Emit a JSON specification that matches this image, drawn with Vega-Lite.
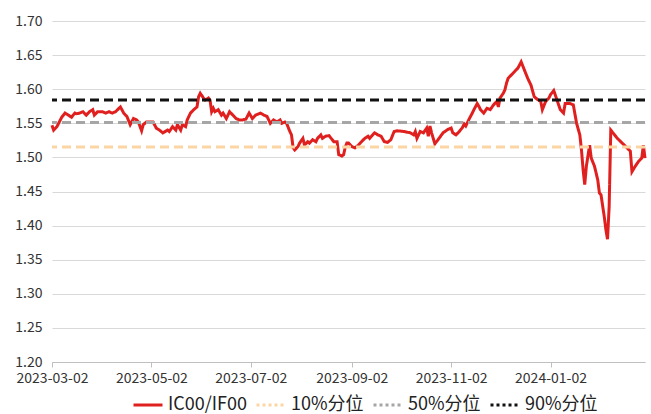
{
  "$schema": "https://vega.github.io/schema/vega-lite/v6.json",
  "width": 593,
  "height": 341,
  "autosize": {"type": "none"},
  "padding": {"left": 52, "top": 21, "right": 6, "bottom": 52},
  "config": {"view": {"stroke": null}, "font": "Noto Sans CJK SC"},
  "datasets": {
    "main": [
      {"date":"2023-03-02","v":1.547},{"date":"2023-03-03","v":1.540},{"date":"2023-03-05","v":1.545},{"date":"2023-03-08","v":1.559},
      {"date":"2023-03-10","v":1.565},{"date":"2023-03-12","v":1.562},{"date":"2023-03-14","v":1.559},{"date":"2023-03-16","v":1.565},
      {"date":"2023-03-17","v":1.564},{"date":"2023-03-19","v":1.565},{"date":"2023-03-21","v":1.567},{"date":"2023-03-23","v":1.562},
      {"date":"2023-03-25","v":1.567},{"date":"2023-03-27","v":1.570},{"date":"2023-03-28","v":1.562},{"date":"2023-03-30","v":1.567},
      {"date":"2023-04-02","v":1.567},{"date":"2023-04-04","v":1.565},{"date":"2023-04-06","v":1.567},{"date":"2023-04-08","v":1.565},
      {"date":"2023-04-10","v":1.567},{"date":"2023-04-13","v":1.574},{"date":"2023-04-15","v":1.565},{"date":"2023-04-17","v":1.560},
      {"date":"2023-04-19","v":1.548},{"date":"2023-04-21","v":1.557},{"date":"2023-04-23","v":1.555},{"date":"2023-04-24","v":1.552},
      {"date":"2023-04-26","v":1.539},{"date":"2023-04-27","v":1.548},{"date":"2023-04-29","v":1.552},{"date":"2023-05-01","v":1.552},
      {"date":"2023-05-03","v":1.552},{"date":"2023-05-05","v":1.543},{"date":"2023-05-07","v":1.540},{"date":"2023-05-09","v":1.536},
      {"date":"2023-05-12","v":1.540},{"date":"2023-05-13","v":1.538},{"date":"2023-05-15","v":1.545},{"date":"2023-05-17","v":1.540},
      {"date":"2023-05-18","v":1.548},{"date":"2023-05-20","v":1.540},{"date":"2023-05-21","v":1.548},{"date":"2023-05-23","v":1.545},
      {"date":"2023-05-24","v":1.555},{"date":"2023-05-26","v":1.565},{"date":"2023-05-28","v":1.570},{"date":"2023-05-30","v":1.574},
      {"date":"2023-05-31","v":1.589},{"date":"2023-06-01","v":1.594},{"date":"2023-06-03","v":1.587},{"date":"2023-06-04","v":1.584},
      {"date":"2023-06-06","v":1.587},{"date":"2023-06-07","v":1.584},{"date":"2023-06-08","v":1.567},{"date":"2023-06-09","v":1.572},
      {"date":"2023-06-10","v":1.567},{"date":"2023-06-12","v":1.570},{"date":"2023-06-14","v":1.562},{"date":"2023-06-15","v":1.565},
      {"date":"2023-06-17","v":1.557},{"date":"2023-06-19","v":1.567},{"date":"2023-06-21","v":1.562},{"date":"2023-06-23","v":1.557},
      {"date":"2023-06-25","v":1.555},{"date":"2023-06-27","v":1.555},{"date":"2023-06-29","v":1.556},{"date":"2023-07-01","v":1.565},
      {"date":"2023-07-03","v":1.557},{"date":"2023-07-05","v":1.562},{"date":"2023-07-08","v":1.565},{"date":"2023-07-10","v":1.562},
      {"date":"2023-07-12","v":1.560},{"date":"2023-07-14","v":1.550},{"date":"2023-07-16","v":1.555},{"date":"2023-07-18","v":1.552},
      {"date":"2023-07-20","v":1.555},{"date":"2023-07-21","v":1.550},{"date":"2023-07-23","v":1.552},{"date":"2023-07-24","v":1.550},
      {"date":"2023-07-26","v":1.538},{"date":"2023-07-27","v":1.533},{"date":"2023-07-28","v":1.514},{"date":"2023-07-29","v":1.511},
      {"date":"2023-07-31","v":1.516},{"date":"2023-08-01","v":1.521},{"date":"2023-08-03","v":1.528},{"date":"2023-08-04","v":1.518},
      {"date":"2023-08-06","v":1.523},{"date":"2023-08-07","v":1.521},{"date":"2023-08-09","v":1.526},{"date":"2023-08-11","v":1.523},
      {"date":"2023-08-12","v":1.528},{"date":"2023-08-14","v":1.533},{"date":"2023-08-15","v":1.528},{"date":"2023-08-17","v":1.531},
      {"date":"2023-08-19","v":1.532},{"date":"2023-08-21","v":1.526},{"date":"2023-08-22","v":1.523},{"date":"2023-08-24","v":1.523},
      {"date":"2023-08-25","v":1.504},{"date":"2023-08-27","v":1.502},{"date":"2023-08-28","v":1.504},{"date":"2023-08-29","v":1.515},
      {"date":"2023-08-30","v":1.521},{"date":"2023-08-31","v":1.521},{"date":"2023-09-02","v":1.516},{"date":"2023-09-04","v":1.514},
      {"date":"2023-09-06","v":1.518},{"date":"2023-09-08","v":1.523},{"date":"2023-09-10","v":1.528},{"date":"2023-09-12","v":1.531},
      {"date":"2023-09-13","v":1.528},{"date":"2023-09-16","v":1.536},{"date":"2023-09-18","v":1.533},{"date":"2023-09-20","v":1.531},
      {"date":"2023-09-22","v":1.523},{"date":"2023-09-24","v":1.522},{"date":"2023-09-26","v":1.526},{"date":"2023-09-28","v":1.538},
      {"date":"2023-09-30","v":1.539},{"date":"2023-10-04","v":1.538},{"date":"2023-10-08","v":1.536},{"date":"2023-10-10","v":1.533},
      {"date":"2023-10-11","v":1.538},{"date":"2023-10-12","v":1.528},{"date":"2023-10-14","v":1.538},{"date":"2023-10-16","v":1.536},
      {"date":"2023-10-18","v":1.543},{"date":"2023-10-19","v":1.531},{"date":"2023-10-20","v":1.546},{"date":"2023-10-21","v":1.536},
      {"date":"2023-10-23","v":1.520},{"date":"2023-10-25","v":1.526},{"date":"2023-10-28","v":1.536},{"date":"2023-10-31","v":1.541},
      {"date":"2023-11-02","v":1.543},{"date":"2023-11-03","v":1.536},{"date":"2023-11-05","v":1.533},{"date":"2023-11-07","v":1.538},
      {"date":"2023-11-09","v":1.544},{"date":"2023-11-10","v":1.549},{"date":"2023-11-11","v":1.546},{"date":"2023-11-13","v":1.556},
      {"date":"2023-11-15","v":1.565},{"date":"2023-11-16","v":1.570},{"date":"2023-11-18","v":1.579},{"date":"2023-11-19","v":1.575},
      {"date":"2023-11-20","v":1.570},{"date":"2023-11-22","v":1.565},{"date":"2023-11-24","v":1.572},{"date":"2023-11-26","v":1.570},
      {"date":"2023-11-28","v":1.577},{"date":"2023-11-30","v":1.582},{"date":"2023-12-01","v":1.574},{"date":"2023-12-02","v":1.587},
      {"date":"2023-12-04","v":1.594},{"date":"2023-12-05","v":1.599},{"date":"2023-12-06","v":1.609},{"date":"2023-12-07","v":1.616},
      {"date":"2023-12-09","v":1.621},{"date":"2023-12-11","v":1.626},{"date":"2023-12-13","v":1.631},{"date":"2023-12-15","v":1.640},
      {"date":"2023-12-17","v":1.628},{"date":"2023-12-19","v":1.616},{"date":"2023-12-21","v":1.606},{"date":"2023-12-23","v":1.589},
      {"date":"2023-12-25","v":1.585},{"date":"2023-12-27","v":1.582},{"date":"2023-12-28","v":1.570},{"date":"2023-12-30","v":1.582},
      {"date":"2024-01-01","v":1.587},{"date":"2024-01-02","v":1.592},{"date":"2024-01-04","v":1.598},{"date":"2024-01-06","v":1.584},
      {"date":"2024-01-08","v":1.570},{"date":"2024-01-10","v":1.565},{"date":"2024-01-11","v":1.579},{"date":"2024-01-14","v":1.579},
      {"date":"2024-01-16","v":1.577},{"date":"2024-01-18","v":1.550},{"date":"2024-01-20","v":1.533},{"date":"2024-01-21","v":1.511},
      {"date":"2024-01-22","v":1.482},{"date":"2024-01-23","v":1.460},{"date":"2024-01-24","v":1.487},{"date":"2024-01-26","v":1.518},
      {"date":"2024-01-27","v":1.499},{"date":"2024-01-29","v":1.487},{"date":"2024-01-31","v":1.467},{"date":"2024-02-01","v":1.448},
      {"date":"2024-02-02","v":1.445},{"date":"2024-02-04","v":1.413},{"date":"2024-02-05","v":1.394},{"date":"2024-02-06","v":1.380},
      {"date":"2024-02-07","v":1.428},{"date":"2024-02-08","v":1.540},{"date":"2024-02-12","v":1.528},{"date":"2024-02-15","v":1.521},
      {"date":"2024-02-18","v":1.514},{"date":"2024-02-20","v":1.509},{"date":"2024-02-21","v":1.479},{"date":"2024-02-23","v":1.487},
      {"date":"2024-02-25","v":1.494},{"date":"2024-02-27","v":1.499},{"date":"2024-02-28","v":1.518},{"date":"2024-02-29","v":1.499}
    ],
    "refs": [
      {"series": "10%分位", "v": 1.5154},
      {"series": "50%分位", "v": 1.5510},
      {"series": "90%分位", "v": 1.5843}
    ]
  },
  "layer": [
    {
      "data": {"name": "main"},
      "transform": [{"calculate": "'IC00/IF00'", "as": "series"}],
      "mark": {"type": "line", "strokeWidth": 3, "interpolate": "linear"},
      "encoding": {
        "x": {
          "field": "date", "type": "temporal",
          "scale": {"type": "utc", "domain": [{"year": 2023, "month": 3, "date": 2, "utc": true}, {"year": 2024, "month": 2, "date": 29, "utc": true}]},
          "axis": {
            "title": null, "grid": false,
            "labelExpr": "utcFormat(datum.value, '%Y-%m-%d')",
            "values": [
              {"year": 2023, "month": 3, "date": 2, "utc": true},
              {"year": 2023, "month": 5, "date": 2, "utc": true},
              {"year": 2023, "month": 7, "date": 2, "utc": true},
              {"year": 2023, "month": 9, "date": 2, "utc": true},
              {"year": 2023, "month": 11, "date": 2, "utc": true},
              {"year": 2024, "month": 1, "date": 2, "utc": true}
            ],
            "domainColor": "#bfbfbf", "tickColor": "#bfbfbf", "tickSize": 5,
            "labelFontSize": 14, "labelColor": "#333333", "labelPadding": 4, "labelFlush": false, "labelOverlap": false
          }
        },
        "y": {
          "field": "v", "type": "quantitative",
          "scale": {"domain": [1.2, 1.7], "nice": false, "zero": false},
          "axis": {
            "title": null, "format": ".2f", "tickCount": 30,
            "values": [1.2, 1.25, 1.3, 1.35, 1.4, 1.45, 1.5, 1.55, 1.6, 1.65, 1.7],
            "grid": true, "gridColor": "#d9d9d9", "domain": false, "ticks": false,
            "labelFontSize": 14, "labelColor": "#333333", "labelPadding": 10, "labelOverlap": false
          }
        },
        "color": {
          "field": "series", "type": "nominal",
          "scale": {"domain": ["IC00/IF00", "10%分位", "50%分位", "90%分位"], "range": ["#e0201f", "#fcd5a4", "#a6a6a6", "#111111"]},
          "legend": {
            "orient": "none", "legendX": 80, "legendY": 368, "direction": "horizontal", "title": null,
            "symbolType": "stroke", "symbolSize": 841, "symbolStrokeWidth": 3,
            "labelFontSize": 18, "labelColor": "#222222", "columnPadding": 3, "labelOffset": 4, "padding": 0
          }
        },
        "strokeDash": {
          "field": "series", "type": "nominal",
          "scale": {"domain": ["IC00/IF00", "10%分位", "50%分位", "90%分位"], "range": [[1, 0], [3, 3], [3, 3], [3, 3]]}
        }
      }
    },
    {
      "data": {"name": "refs"},
      "mark": {"type": "rule", "strokeWidth": 3, "strokeDash": [9, 5]},
      "encoding": {
        "y": {"field": "v", "type": "quantitative"},
        "color": {"field": "series", "type": "nominal"}
      }
    }
  ]
}
